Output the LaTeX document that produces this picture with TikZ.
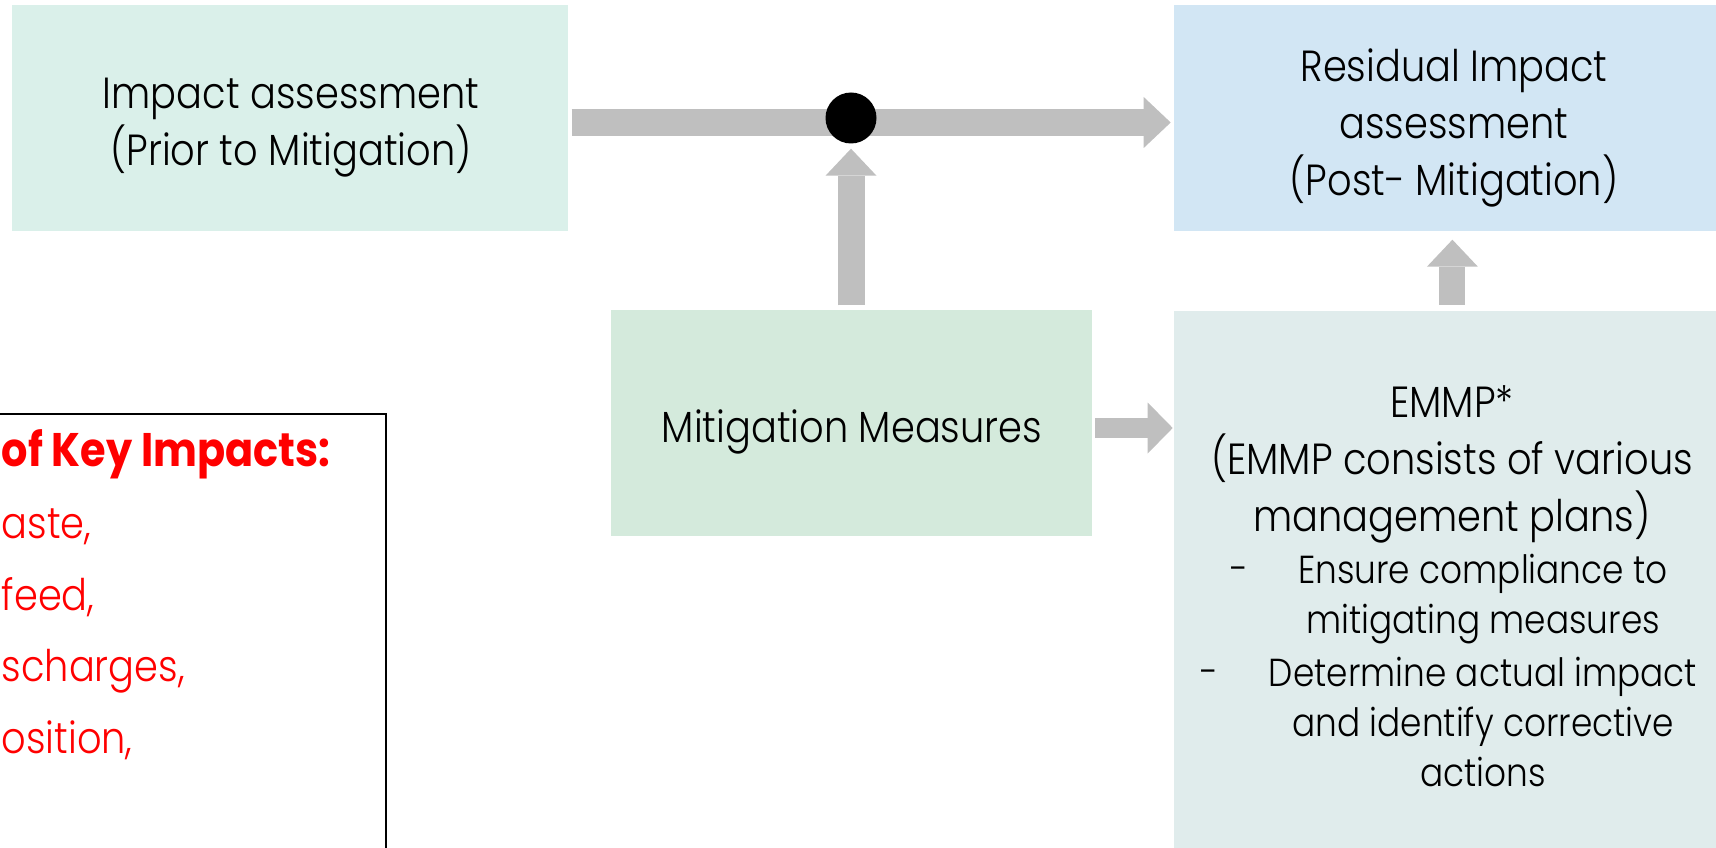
\documentclass[tikz,border=0pt]{standalone}
\usepackage{fontspec}
\setmainfont{Poppins}[UprightFont=* Light, BoldFont=* Bold, FakeStretch=0.88]
\usetikzlibrary{
  	positioning,
  	arrows.meta,
  	calc
  }

\definecolor{impactfill}{HTML}{DAF0EA}
\definecolor{residualfill}{HTML}{D2E6F4}
\definecolor{mitigfill}{HTML}{D4EADC}
\definecolor{emmpfill}{HTML}{E0ECEC}
\definecolor{arrowgrey}{HTML}{BFBFBF}

\newcommand{\boxfont}{\fontsize{12.4}{16.2}\selectfont}
\newcommand{\listfont}{\fontsize{11.1}{14.3}\selectfont}
\newcommand{\keyheadfont}{\fontsize{13.4}{16.2}\selectfont\bfseries}

\tikzset{
  stage/.style={minimum width=55.6mm, minimum height=22.6mm, inner sep=0pt},
  stagetext/.style={align=center, inner sep=0pt, font=\boxfont},
  bigarrow/.style={draw=arrowgrey, line width=2.7mm, -{Triangle[width=5.1mm, length=2.7mm, line width=0pt]}},
  smallarrow/.style={draw=arrowgrey, line width=2mm, -{Triangle[width=5.1mm, length=2.5mm, line width=0pt]}},
  keyline/.style={text=red, font=\boxfont, anchor=base west, inner sep=0pt},
  emmpline/.style={font=\listfont, align=center, inner sep=0pt}
}

\begin{document}
\begin{tikzpicture}[x=0.1mm, y=0.1mm]
	\useasboundingbox (0,0) rectangle (1716,-848);
	\node[stage, fill=impactfill] (impact) at (290,-118) {};
	\node[stage, fill=residualfill, right=605 of impact] (residual) {};
	\node[stage, fill=mitigfill, minimum width=48.1mm] (mitig) at (851,-423) {};
	\node[stage, fill=emmpfill, minimum height=53.8mm, below=79 of residual] (emmp) {};
%
	\node[stagetext] (impacttext) at (291,-128) {Impact assessment\\(Prior to Mitigation)};
	\node[stagetext] (residualtext) at (1454,-128) {Residual Impact\\assessment\\(Post- Mitigation)};
	\node[stagetext] (mitigtext) at (852,-432) {Mitigation Measures};
	\node[stagetext] (emmphead) at (1452,-464) {EMMP*\\(EMMP consists of various\\management plans)};
	\node[emmpline] (ensure) at (1483,-599) {Ensure compliance to\\mitigating measures};
	\node[emmpline] (determine) at (1483,-722) {Determine actual impact\\and identify corrective\\actions};
	\node[emmpline, anchor=north east] (dashA) at ([xshift=-4.9mm]ensure.north west) {\vphantom{Ed}-};
	\node[emmpline, anchor=north east] (dashB) at ([xshift=-4.9mm]determine.north west) {\vphantom{Ed}-};
%
	\node[draw, line width=0.6pt, minimum width=41mm, minimum height=48mm, anchor=north east] (keybox) at (387,-413) {};
	\node[keyline, font=\keyheadfont] (keyhead) at (1,-466) {of Key Impacts:};
	\node[keyline] (keyA) at (1,-538) {aste,};
	\node[keyline] (keyB) at (1,-610) {feed,};
	\node[keyline] (keyC) at (1,-681) {scharges,};
	\node[keyline] (keyD) at (1,-753) {osition,};
%
	\draw[bigarrow, shorten <=0.3mm, shorten >=0.3mm] ([yshift=-0.45mm]impact.east) -- ([yshift=-0.45mm]residual.west);
	\node[circle, fill=black, minimum size=5.1mm, inner sep=0pt] (junction) at (mitig |- impact) {};
	\draw[bigarrow, shorten <=0.4mm, shorten >=0.45mm] (mitig.north) -- (junction.south);
	\draw[smallarrow, shorten <=0.3mm, shorten >=0.1mm] ([yshift=-0.5mm]mitig.east) -- ([yshift=-0.5mm]mitig.east -| emmp.west);
	\draw[bigarrow, line width=2.6mm, shorten <=0.6mm, shorten >=0.8mm] (emmp.north) -- (residual.south);
\end{tikzpicture}
\end{document}
